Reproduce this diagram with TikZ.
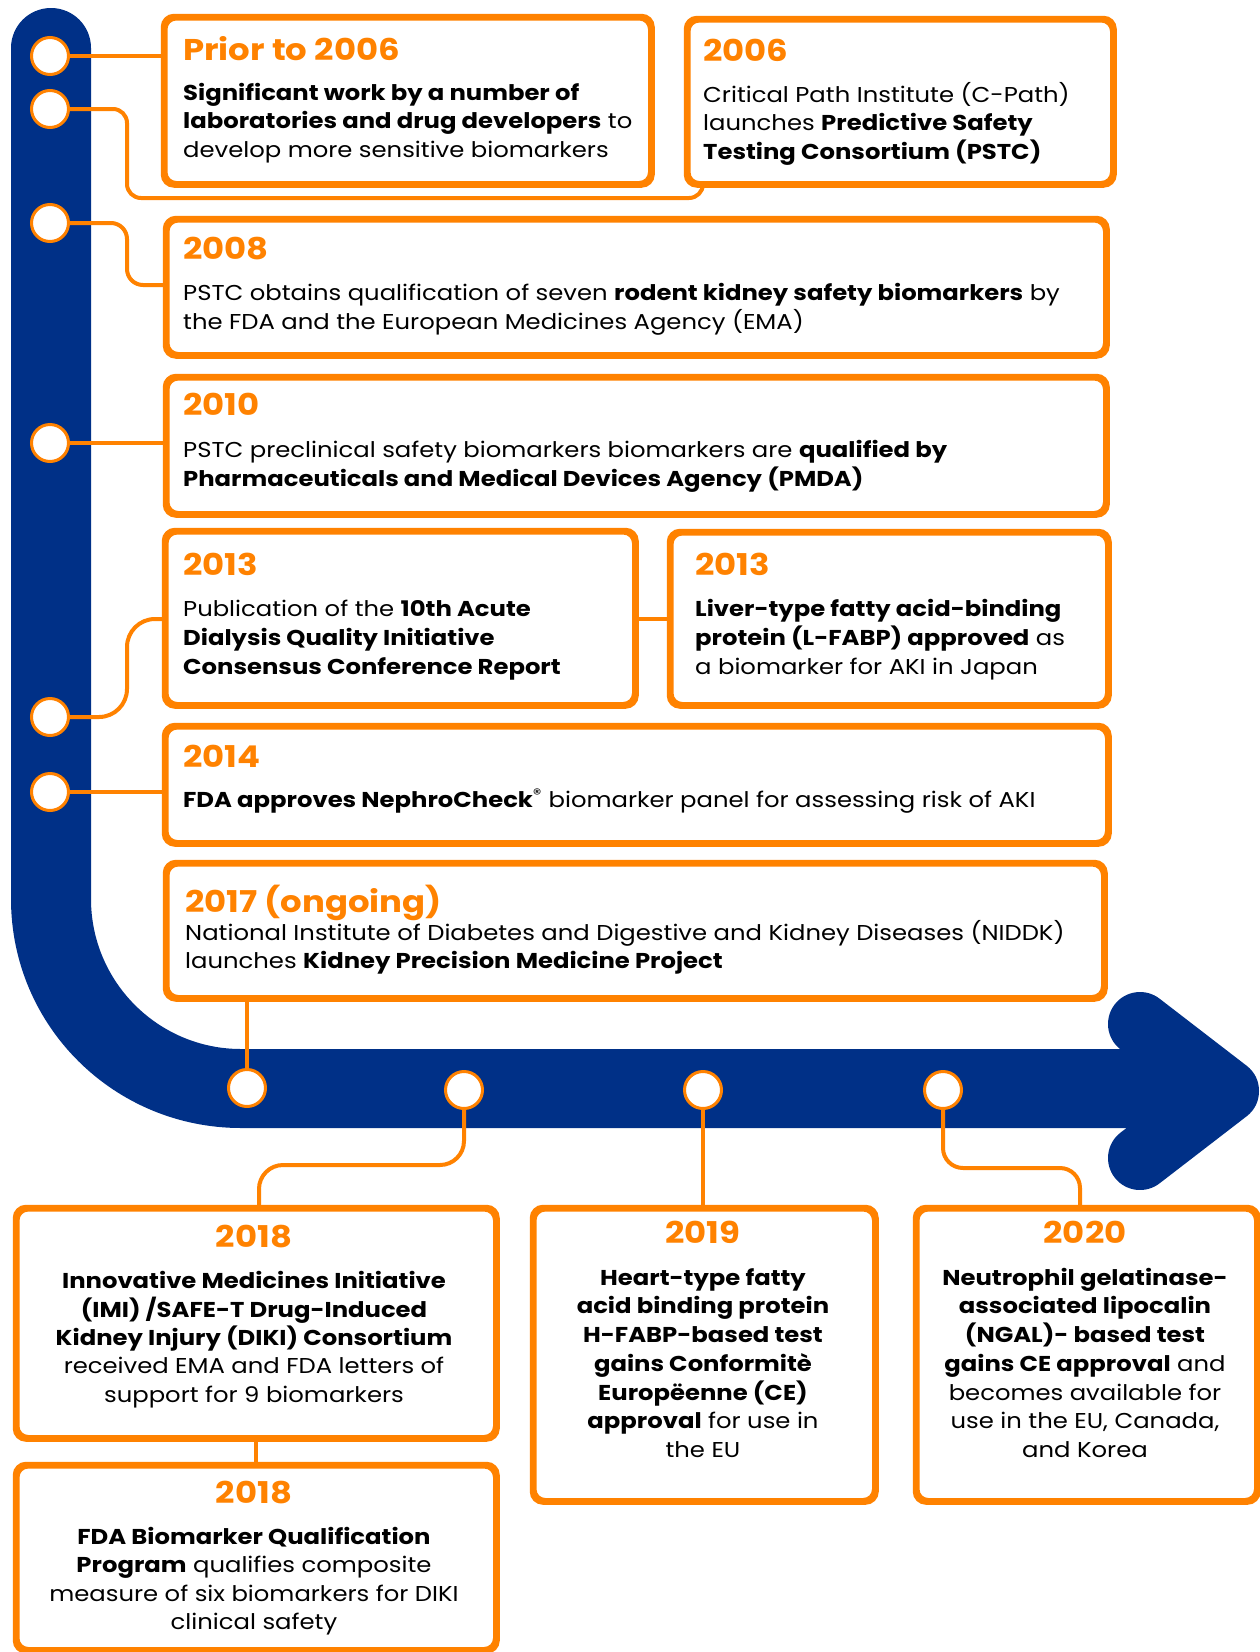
\documentclass[tikz,border=0pt]{standalone}
\usepackage{fontspec}
\setmainfont{Poppins}[FakeStretch=1.13]
\definecolor{org}{RGB}{255,130,0}
\definecolor{navy}{RGB}{0,48,135}
\begin{document}
\begin{tikzpicture}[x=1pt,y=-1pt,
  box/.style={draw=org, line width=4.5pt, rounded corners=11pt, fill=white, anchor=north west, inner sep=0pt},
  conn/.style={draw=org, line width=4pt, rounded corners=16pt},
  dot/.style={circle, draw=org, line width=3pt, fill=white, minimum size=37pt, inner sep=0pt},
  yr/.style={text=org, font=\fontsize{30}{34}\selectfont\bfseries, inner sep=0pt},
  body/.style={font=\fontsize{21.5}{28}\selectfont, inner sep=0pt, text=black},
]
\useasboundingbox (0,0) rectangle (1259,1652);
\fill[white] (0,0) rectangle (1259,1652);

% blue timeline band
\fill[navy] (11,48) .. controls (11,25.9) and (28.9,8) .. (51,8)
  .. controls (73.1,8) and (91,25.9) .. (91,48)
  -- (91,899) .. controls (91,981.8) and (158.2,1049) .. (241,1049)
  -- (1180,1049) -- (1180,1128) -- (241,1128)
  .. controls (114,1128) and (11,1026) .. (11,899) -- cycle;
\fill[navy] (1140,1024) -- (1227,1091) -- (1140,1158) -- cycle;
\draw[navy, line width=64pt, line cap=round, line join=round] (1140,1024) -- (1227,1091) -- (1140,1158);

% boxes
\node[box, minimum width=485pt, minimum height=165pt] (A) at (163,16) {};
\node[box, minimum width=424pt, minimum height=163pt] (B) at (686,18) {};
\node[box, minimum width=938pt, minimum height=134pt] (C) at (165,218) {};
\node[box, minimum width=938pt, minimum height=135pt] (D) at (165,376) {};
\node[box, minimum width=468pt, minimum height=172pt] (E) at (164,530) {};
\node[box, minimum width=436pt, minimum height=171pt] (F) at (669,531) {};
\node[box, minimum width=941pt, minimum height=115pt] (G) at (164,725) {};
\node[box, minimum width=936pt, minimum height=133pt] (H) at (165,862) {};
\node[box, minimum width=478pt, minimum height=228pt] (I) at (15,1207) {};
\node[box, minimum width=478pt, minimum height=183pt] (J) at (15,1464) {};
\node[box, minimum width=340pt, minimum height=291pt] (K) at (532,1207) {};
\node[box, minimum width=339pt, minimum height=291pt] (L) at (915,1207) {};

% circle positions
\coordinate (p1) at (50,56);
\coordinate (p2) at (50,109);
\coordinate (p3) at (50,223);
\coordinate (p4) at (50,443);
\coordinate (p5) at (50,717);
\coordinate (p6) at (50,792);
\coordinate (q1) at (247,1088);
\coordinate (q2) at (464,1090);
\coordinate (q3) at (703,1090);
\coordinate (q4) at (943,1090);

% connectors
\draw[conn] (p1) -- (p1 -| A.west);
\draw[conn, rounded corners=14pt] (p2) -- (127,109) -- (127,198) -- (703,198) -- (B.south -| 703,0);
\draw[conn] (p3) -- (127,223) -- (127,285) -- (C.west |- 0,285);
\draw[conn] (p4) -- (p4 -| D.west);
\draw[conn, rounded corners=28pt] (p5) -- (127,717) -- (127,619) -- (E.west |- 0,619);
\draw[conn] (p6) -- (p6 -| G.west);
\draw[conn] (E.east |- 0,619) -- (F.west |- 0,619);
\draw[conn] (H.south -| q1) -- (q1);
\draw[conn, rounded corners=24pt] (q2) -- (464,1165) -- (259,1165) -- (I.north -| 259,0);
\draw[conn] (q3) -- (q3 |- K.north);
\draw[conn, rounded corners=20pt] (q4) -- (943,1168) -- (1080,1168) -- (L.north -| 1080,0);
\draw[conn] (I.south) -- (J.north);

% redraw box borders over connector ends
\foreach \b in {A,B,C,D,E,F,G,H,I,J,K,L}{\draw[org, line width=4.5pt, rounded corners=11pt] (\b.north west) rectangle (\b.south east);}

% circles
\node[dot] (c1) at (p1) {};
\node[dot] (c2) at (p2) {};
\node[dot] (c3) at (p3) {};
\node[dot] (c4) at (p4) {};
\node[dot] (c5) at (p5) {};
\node[dot] (c6) at (p6) {};
\node[dot] (b1) at (q1) {};
\node[dot] (b2) at (q2) {};
\node[dot] (b3) at (q3) {};
\node[dot] (b4) at (q4) {};

% texts
\node[yr, anchor=base west] (ta) at (183,60) {Prior to 2006};
\node[body, anchor=base west] (a1) at (183,100) {\textbf{Significant work by a number of}};
\node[body, anchor=base west] (a2) at (183,128) {\textbf{laboratories and drug developers} to};
\node[body, anchor=base west] (a3) at (183,157) {develop more sensitive biomarkers};

\node[yr, anchor=base west] (tb) at (703,61) {2006};
\node[body, anchor=base west] (b1t) at (703,102) {Critical Path Institute (C-Path)};
\node[body, anchor=base west] (b2t) at (703,130) {launches \textbf{Predictive Safety}};
\node[body, anchor=base west] (b3t) at (703,159) {\textbf{Testing Consortium (PSTC)}};

\node[yr, anchor=base west] (tc) at (183,259) {2008};
\node[body, anchor=base west] (c1t) at (183,300) {PSTC obtains qualification of seven \textbf{rodent kidney safety biomarkers} by};
\node[body, anchor=base west] (c2t) at (183,329) {the FDA and the European Medicines Agency (EMA)};

\node[yr, anchor=base west] (td) at (183,415) {2010};
\node[body, anchor=base west] (d1t) at (183,457) {PSTC preclinical safety biomarkers biomarkers are \textbf{qualified by}};
\node[body, anchor=base west] (d2t) at (183,486) {\textbf{Pharmaceuticals and Medical Devices Agency (PMDA)}};

\node[yr, anchor=base west] (te) at (183,575) {2013};
\node[body, anchor=base west] (e1t) at (183,616) {Publication of the \textbf{10th Acute}};
\node[body, anchor=base west] (e2t) at (183,645) {\textbf{Dialysis Quality Initiative}};
\node[body, anchor=base west] (e3t) at (183,674) {\textbf{Consensus Conference Report}};

\node[yr, anchor=base west] (tf) at (695,575) {2013};
\node[body, anchor=base west] (f1t) at (695,616) {\textbf{Liver-type fatty acid-binding}};
\node[body, anchor=base west] (f2t) at (695,645) {\textbf{protein (L-FABP) approved} as};
\node[body, anchor=base west] (f3t) at (695,674) {a biomarker for AKI in Japan};

\node[yr, anchor=base west] (tg) at (183,767) {2014};
\node[body, anchor=base west] (g1t) at (183,807) {\textbf{FDA approves NephroCheck}\textsuperscript{®} biomarker panel for assessing risk of AKI};

\node[yr, anchor=base west] (th) at (185,912) {2017 (ongoing)};
\node[body, anchor=base west] (h1t) at (185,940) {National Institute of Diabetes and Digestive and Kidney Diseases (NIDDK)};
\node[body, anchor=base west] (h2t) at (185,968) {launches \textbf{Kidney Precision Medicine Project}};

\node[yr, anchor=base] (ti) at (254,1247) {2018};
\node[body, anchor=base] (i1t) at (254,1288) {\textbf{Innovative Medicines Initiative}};
\node[body, anchor=base] (i2t) at (254,1317) {\textbf{(IMI) /SAFE-T Drug-Induced}};
\node[body, anchor=base] (i3t) at (254,1345) {\textbf{Kidney Injury (DIKI) Consortium}};
\node[body, anchor=base] (i4t) at (254,1373) {received EMA and FDA letters of};
\node[body, anchor=base] (i5t) at (254,1402) {support for 9 biomarkers};

\node[yr, anchor=base] (tj) at (254,1503) {2018};
\node[body, anchor=base] (j1t) at (254,1544) {\textbf{FDA Biomarker Qualification}};
\node[body, anchor=base] (j2t) at (254,1572) {\textbf{Program} qualifies composite};
\node[body, anchor=base] (j3t) at (254,1601) {measure of six biomarkers for DIKI};
\node[body, anchor=base] (j4t) at (254,1629) {clinical safety};

\node[yr, anchor=base] (tk) at (703,1243) {2019};
\node[body, anchor=base] (k1t) at (703,1285) {\textbf{Heart-type fatty}};
\node[body, anchor=base] (k2t) at (703,1313) {\textbf{acid binding protein}};
\node[body, anchor=base] (k3t) at (703,1342) {\textbf{H-FABP-based test}};
\node[body, anchor=base] (k4t) at (703,1371) {\textbf{gains Conformitè}};
\node[body, anchor=base] (k5t) at (703,1400) {\textbf{Europëenne (CE)}};
\node[body, anchor=base] (k6t) at (703,1428) {\textbf{approval} for use in};
\node[body, anchor=base] (k7t) at (703,1457) {the EU};

\node[yr, anchor=base] (tl) at (1085,1243) {2020};
\node[body, anchor=base] (l1t) at (1085,1285) {\textbf{Neutrophil gelatinase-}};
\node[body, anchor=base] (l2t) at (1085,1313) {\textbf{associated lipocalin}};
\node[body, anchor=base] (l3t) at (1085,1342) {\textbf{(NGAL)- based test}};
\node[body, anchor=base] (l4t) at (1085,1371) {\textbf{gains CE approval} and};
\node[body, anchor=base] (l5t) at (1085,1400) {becomes available for};
\node[body, anchor=base] (l6t) at (1085,1428) {use in the EU, Canada,};
\node[body, anchor=base] (l7t) at (1085,1457) {and Korea};
\end{tikzpicture}
\end{document}
